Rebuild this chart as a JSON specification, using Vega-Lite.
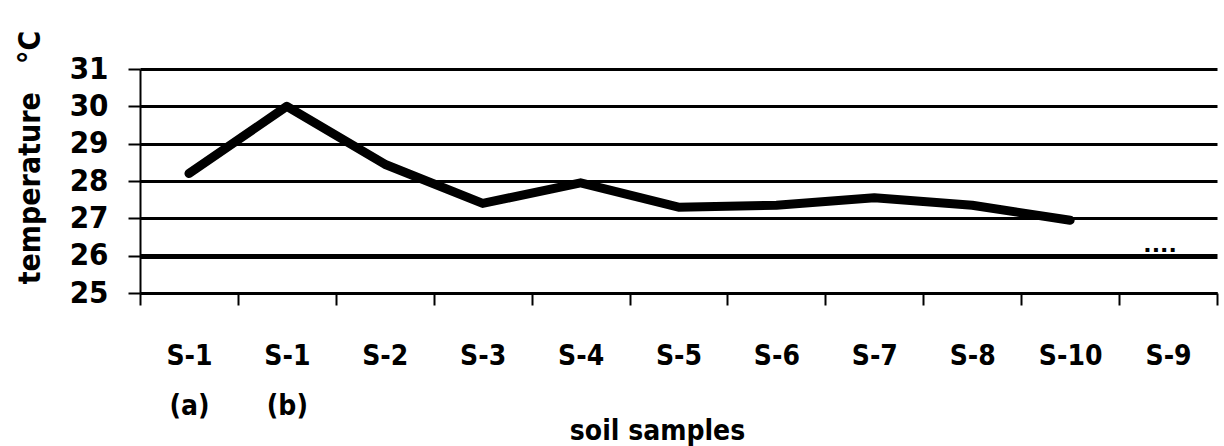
{
  "$schema": "https://vega.github.io/schema/vega-lite/v6.json",
  "autosize": "none",
  "width": 1077,
  "height": 224,
  "padding": {"left": 140, "top": 69, "right": 7, "bottom": 153},
  "background": "white",
  "config": {"view": {"stroke": null}, "font": "DejaVu Sans Condensed, DejaVu Sans, sans-serif"},
  "data": {"values": [
    {"sample": "S-1\n(a)", "temp": 28.2, "kind": "line"},
    {"sample": "S-1\n(b)", "temp": 30.0, "kind": "line"},
    {"sample": "S-2", "temp": 28.45, "kind": "line"},
    {"sample": "S-3", "temp": 27.4, "kind": "line"},
    {"sample": "S-4", "temp": 27.95, "kind": "line"},
    {"sample": "S-5", "temp": 27.3, "kind": "line"},
    {"sample": "S-6", "temp": 27.35, "kind": "line"},
    {"sample": "S-7", "temp": 27.55, "kind": "line"},
    {"sample": "S-8", "temp": 27.35, "kind": "line"},
    {"sample": "S-10", "temp": 26.95, "kind": "line"},
    {"sample": "S-9", "temp": 26.2, "kind": "dots", "note": "...."}
  ]},
  "encoding": {
    "x": {
      "field": "sample", "type": "nominal", "sort": null,
      "scale": {"paddingInner": 0, "paddingOuter": 0},
      "axis": {
        "title": "soil samples",
        "labelAngle": 0,
        "labelExpr": "split(datum.label, '\\n')",
        "labelFont": "DejaVu Sans Condensed, DejaVu Sans, sans-serif",
        "labelFontSize": 28,
        "labelFontWeight": "bold",
        "labelColor": "black",
        "labelLineHeight": 50,
        "labelPadding": 37,
        "labelBaseline": "top",
        "tickBand": "extent",
        "ticks": true,
        "tickSize": 12,
        "tickWidth": 2,
        "tickColor": "black",
        "domain": true,
        "domainColor": "black",
        "domainWidth": 3,
        "grid": false,
        "titleFont": "DejaVu Sans Condensed, DejaVu Sans, sans-serif",
        "titleFontSize": 28,
        "titleFontWeight": "bold",
        "titleColor": "black",
        "titleX": 517,
        "titleY": 138,
        "titleAlign": "center",
        "titleBaseline": "middle"
      }
    },
    "y": {
      "field": "temp", "type": "quantitative",
      "scale": {"domain": [25, 31], "nice": false, "zero": false},
      "axis": {
        "title": "temperature\u00a0\u00a0\u00a0°C",
        "values": [25, 26, 27, 28, 29, 30, 31],
        "labelFont": "DejaVu Sans Condensed, DejaVu Sans, sans-serif",
        "labelFontSize": 31,
        "labelFontWeight": "bold",
        "labelColor": "black",
        "labelPadding": 20,
        "tickSize": 12,
        "tickWidth": 2,
        "tickColor": "black",
        "domain": true,
        "domainColor": "black",
        "domainWidth": 2,
        "grid": true,
        "gridColor": "black",
        "gridOpacity": 1,
        "gridWidth": {"condition": {"test": "datum.value === 26", "value": 5}, "value": 3},
        "titleFont": "DejaVu Sans Condensed, DejaVu Sans, sans-serif",
        "titleFontSize": 30,
        "titleFontWeight": "bold",
        "titleColor": "black",
        "titleX": -110,
        "titleY": 88,
        "titleAlign": "center",
        "titleBaseline": "middle",
        "titleAngle": -90
      }
    }
  },
  "layer": [
    {
      "transform": [{"filter": "datum.kind === 'line'"}],
      "mark": {"type": "line", "color": "black", "strokeWidth": 9, "strokeCap": "round", "strokeJoin": "round"}
    },
    {
      "transform": [{"filter": "datum.kind === 'dots'"}],
      "mark": {"type": "text", "fontSize": 22, "fontWeight": "bold", "color": "black", "baseline": "alphabetic", "align": "center", "dx": -8, "dy": 4, "font": "DejaVu Sans"},
      "encoding": {"text": {"field": "note"}}
    }
  ]
}
